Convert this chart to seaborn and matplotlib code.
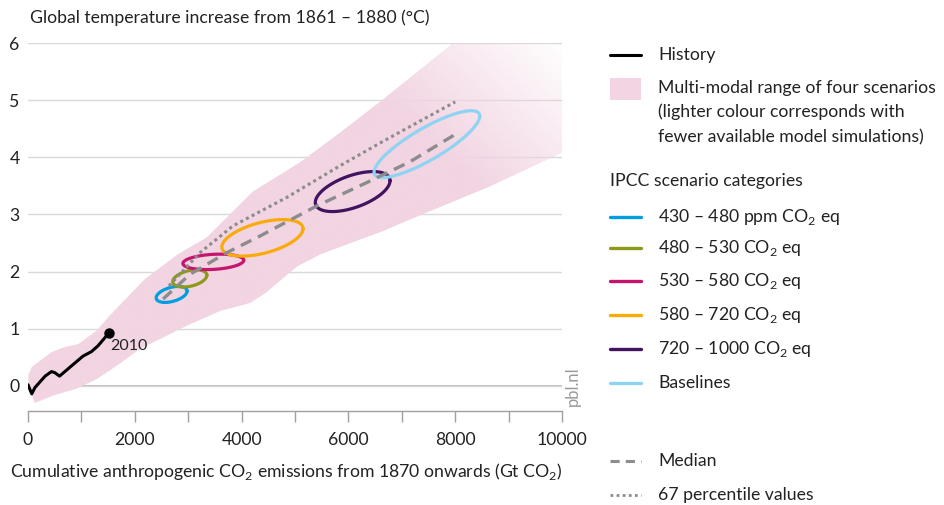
import numpy as np
import pandas as pd
import matplotlib
matplotlib.use("Agg")
import matplotlib.pyplot as plt
from matplotlib.patches import Polygon, Rectangle
from matplotlib.lines import Line2D
from matplotlib.colors import to_rgb
import seaborn as sns

# ---------------------------------------------------------------------
# DATA
# ---------------------------------------------------------------------
# historical warming vs cumulative emissions, 1870-2010
hist_x = [0, 70, 130, 320, 440, 505, 590, 790, 1030, 1190, 1310, 1510]
hist_y = [0.02, -0.14, -0.03, 0.17, 0.25, 0.23, 0.17, 0.33, 0.52, 0.60, 0.70, 0.92]

# median and 67 percentile of the scenario cloud
median_x = [2530, 3030, 3720, 4340, 5410, 6350, 7150, 8000]
median_y = [1.52, 1.95, 2.33, 2.62, 3.15, 3.56, 3.92, 4.40]
pct67_x = [2640, 3220, 3840, 4850, 5840, 6630, 8000]
pct67_y = [1.75, 2.33, 2.80, 3.30, 3.85, 4.27, 4.97]

# multi-modal range (upper edge left->right, lower edge right->left)
band_up_x = [5, 70, 440, 690, 940, 1290, 1500, 1910, 2190, 2800, 3350, 3780,
             4210, 5090, 5840, 6630, 7960, 10000, 10000]
band_up_y = [0.18, 0.33, 0.59, 0.68, 0.73, 0.97, 1.20, 1.60, 1.87, 2.30, 2.60,
             3.00, 3.40, 3.91, 4.43, 5.00, 6.00, 6.00, 6.00]
band_lo_x = [10000, 8650, 7150, 6680, 5470, 5040, 4440, 4160, 3600, 2970, 2470,
             2100, 1660, 1290, 910, 470, 130, 20]
band_lo_y = [4.08, 3.49, 2.91, 2.72, 2.30, 2.09, 1.62, 1.45, 1.31, 1.05, 0.82,
             0.65, 0.35, 0.12, -0.05, -0.17, -0.30, -0.05]

# IPCC scenario categories: ellipse centre, half range in x and y, tilt phase (deg)
cat_labels = ["430 – 480 ppm CO$_\\mathregular{2}$ eq", "480 – 530 CO$_\\mathregular{2}$ eq",
              "530 – 580 CO$_\\mathregular{2}$ eq", "580 – 720 CO$_\\mathregular{2}$ eq",
              "720 – 1000 CO$_\\mathregular{2}$ eq", "Baselines"]
cat_colors = ["#009ee0", "#8c9a1c", "#c6156f", "#f9ab0a", "#42145f", "#8fd3f2"]
ell_cx = [2690, 3030, 3470, 4390, 6080, 7470]
ell_cy = [1.60, 1.88, 2.17, 2.59, 3.40, 4.23]
ell_hx = [290, 320, 570, 760, 700, 990]
ell_hy = [0.14, 0.15, 0.135, 0.32, 0.35, 0.585]
ell_phase = [65, 68, 78, 60, 57, 33]

PINK = "#f2d4e2"
GREY = "#8c8c8c"
TXT = "#222222"

# ---------------------------------------------------------------------
# FIGURE
# ---------------------------------------------------------------------
sns.set_theme(style="white")
plt.rcParams["font.family"] = ["Lato", "DejaVu Sans"]
plt.rcParams["mathtext.fontset"] = "custom"
plt.rcParams["mathtext.rm"] = "Lato"
FS = 12.7

W, H = 944, 505
fig = plt.figure(figsize=(W / 100, H / 100), dpi=100)
ax = fig.add_axes([28 / W, 1 - 411 / H, (562 - 28) / W, (411 - 43) / H])

# band with fading colour to the upper right
poly = np.column_stack([np.r_[band_up_x, band_lo_x], np.r_[band_up_y, band_lo_y]])
band = Polygon(poly, closed=True, facecolor="none", edgecolor="none")
ax.add_patch(band)
gx = np.linspace(0, 10000, 500)
gy = np.linspace(-0.44, 6, 400)
GX, GY = np.meshgrid(gx, gy)
u = 0.932 * GX / 1000 + GY
alpha = np.clip((15.4 - u) / (15.4 - 11.3), 0, 1)
rgba = np.zeros(GX.shape + (4,))
rgba[..., :3] = to_rgb(PINK)
rgba[..., 3] = alpha
im = ax.imshow(rgba, extent=[0, 10000, -0.44, 6], origin="lower",
               aspect="auto", interpolation="bilinear", zorder=1)
im.set_clip_path(band)

# scenario ellipses
t = np.linspace(0, 2 * np.pi, 200)
rows = []
for lab, cx, cy, hx, hy, ph in zip(cat_labels, ell_cx, ell_cy, ell_hx, ell_hy, ell_phase):
    rows.append(pd.DataFrame({"x": cx + hx * np.cos(t),
                              "y": cy + hy * np.cos(t - np.radians(ph)),
                              "cat": lab}))
ell_df = pd.concat(rows, ignore_index=True)
sns.lineplot(data=ell_df, x="x", y="y", hue="cat", palette=dict(zip(cat_labels, cat_colors)),
             sort=False, estimator=None, legend=False, lw=2.3, ax=ax, zorder=3)

# median / percentile
sns.lineplot(x=pct67_x, y=pct67_y, color=GREY, lw=2.2, ls=(0, (1, 1.1)),
             sort=False, ax=ax, zorder=4)
sns.lineplot(x=median_x, y=median_y, color=GREY, lw=2.4, ls=(0, (3.5, 2.2)),
             sort=False, ax=ax, zorder=4)

# history
sns.lineplot(x=hist_x, y=hist_y, color="black", lw=2.2, sort=False, ax=ax, zorder=5)
ax.plot(hist_x[-1], hist_y[-1], "o", color="black", ms=6.5, zorder=5)
ax.text(1535, 0.70, "2010", fontsize=11.5, ha="left", va="center", color=TXT)

# axes styling
ax.set_xlim(0, 10000)
ax.set_ylim(-0.44, 6)
ax.set_yticks(range(7))
ax.set_yticklabels([str(v) for v in range(7)], fontsize=FS)
ax.set_xticks(range(0, 10001, 2000))
ax.set_xticklabels([str(v) for v in range(0, 10001, 2000)], fontsize=FS)
ax.set_xticks(range(0, 10001, 1000), minor=True)
ax.tick_params(axis="y", length=0, pad=6, colors=TXT)
ax.tick_params(axis="x", which="both", length=8, width=1, color="#a0a0a0",
               direction="out", pad=7, labelcolor=TXT, bottom=True)
ax.grid(axis="y", color="#d9d9d9", lw=1)
ax.set_axisbelow(True)
ax.axhline(0, color="#a6a6a6", lw=1.1, zorder=0.5)
for s in ["top", "right", "left"]:
    ax.spines[s].set_visible(False)
ax.spines["bottom"].set_color("#a0a0a0")
ax.spines["bottom"].set_linewidth(1)
ax.set_xlabel("")
ax.set_ylabel("")

fig.text(30 / W, 1 - 18 / H, "Global temperature increase from 1861 – 1880 (°C)",
         fontsize=FS, va="center", ha="left", color=TXT)
fig.text(10 / W, 1 - 472 / H,
         "Cumulative anthropogenic CO$_\\mathregular{2}$ emissions from 1870 onwards (Gt CO$_\\mathregular{2}$)",
         fontsize=FS, va="center", ha="left", color=TXT)
fig.text(573 / W, 1 - 386 / H, "pbl.nl", rotation=90, fontsize=12, color="#9a9a9a",
         ha="center", va="center")

# ---------------------------------------------------------------------
# LEGEND (drawn by hand on the figure)
# ---------------------------------------------------------------------
def fy(py):
    return 1 - py / H

x0, x1, xt = 610 / W, 641 / W, 658 / W

def leg_line(py, label, **kw):
    fig.add_artist(Line2D([x0, x1], [fy(py), fy(py)], transform=fig.transFigure, **kw))
    fig.text(xt, fy(py), label, fontsize=FS, va="center", ha="left", color=TXT)

leg_line(55, "History", color="black", lw=2.2)
fig.add_artist(Rectangle((x0, fy(100)), x1 - x0, 22 / H, transform=fig.transFigure,
                         facecolor=PINK, edgecolor="none"))
fig.text(xt, fy(88), "Multi-modal range of four scenarios", fontsize=FS, va="center", color=TXT)
fig.text(xt, fy(112), "(lighter colour corresponds with", fontsize=FS, va="center", color=TXT)
fig.text(xt, fy(137), "fewer available model simulations)", fontsize=FS, va="center", color=TXT)
fig.text(x0, fy(181), "IPCC scenario categories", fontsize=FS, va="center", color=TXT)
for py, lab, col in zip([217, 248, 281, 315, 349, 383], cat_labels, cat_colors):
    leg_line(py, lab, color=col, lw=2.4)
leg_line(461, "Median", color=GREY, lw=2.2, ls=(0, (3, 2)))
leg_line(495, "67 percentile values", color=GREY, lw=2.0, ls=(0, (1, 1.2)))

fig.savefig("out.png", dpi=100)
